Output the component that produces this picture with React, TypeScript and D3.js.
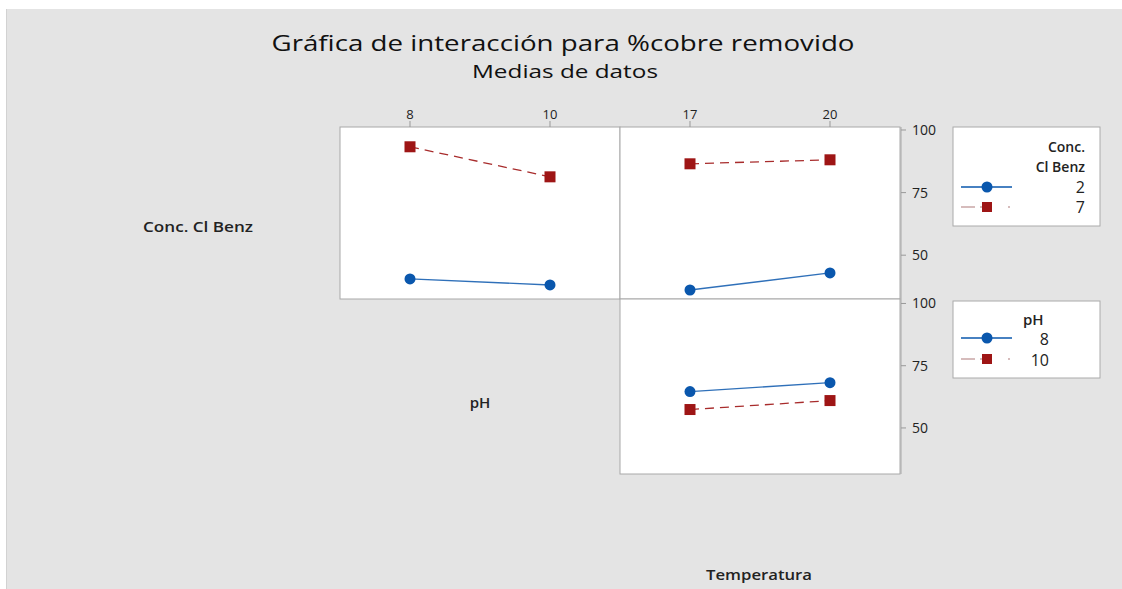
import React from "react";
import * as d3 from "d3";

// ---- Data ----
const concLevels = ["2", "7"];
const phLevels = ["8", "10"];
const phValues = [8, 10];
const tempValues = [17, 20];
// Panel: Conc. Cl Benz (series) vs pH (x)
const concByPh_2 = [40.5, 38.1];
const concByPh_7 = [93.3, 81.3];
// Panel: Conc. Cl Benz (series) vs Temperatura (x)
const concByTemp_2 = [36.1, 42.9];
const concByTemp_7 = [86.5, 88.1];
// Panel: pH (series) vs Temperatura (x)
const phByTemp_8 = [64.6, 68.2];
const phByTemp_10 = [57.4, 61.0];
const yTicks = [50, 75, 100];

const W = 1122;
const H = 589;
const BLUE = "#0a57ad";
const RED = "#9e1515";
const FONT = "'Open Sans', 'Noto Sans', sans-serif";

const xPh = d3.scaleLinear().domain([7, 11]).range([340, 620]);
const xTemp = d3.scaleLinear().domain([15.5, 21.5]).range([620, 900]);
const yTop = d3.scaleLinear().domain([32.5, 101.2]).range([299, 127]);
const yBot = d3.scaleLinear().domain([31.5, 101.8]).range([474, 299]);

type SeriesProps = {
  xs: number[];
  ys: number[];
  x: d3.ScaleLinear<number, number>;
  y: d3.ScaleLinear<number, number>;
  kind: "circle" | "square";
};

function Series({ xs, ys, x, y, kind }: SeriesProps) {
  const line = d3
    .line<number>()
    .x((_, i) => x(xs[i]))
    .y((d) => y(d));
  const color = kind === "circle" ? BLUE : RED;
  return (
    <g>
      <path
        d={line(ys) || ""}
        fill="none"
        stroke={color}
        strokeWidth={1.3}
        strokeOpacity={kind === "circle" ? 0.85 : 0.9}
        strokeDasharray={kind === "square" ? "9,6" : undefined}
      />
      {ys.map((v, i) =>
        kind === "circle" ? (
          <circle key={i} cx={x(xs[i])} cy={y(v)} r={5.5} fill={color} />
        ) : (
          <rect key={i} x={x(xs[i]) - 5.5} y={y(v) - 5.5} width={11} height={11} fill={color} />
        )
      )}
    </g>
  );
}

function LegendRow({ y, kind }: { y: number; kind: "circle" | "square" }) {
  const color = kind === "circle" ? BLUE : RED;
  return (
    <g>
      <line
        x1={961}
        x2={1012}
        y1={y}
        y2={y}
        stroke={kind === "circle" ? color : "#c9a6a6"}
        strokeWidth={1.4}
        strokeDasharray={kind === "square" ? "14,5,12,16,2,10" : undefined}
      />
      {kind === "circle" ? (
        <circle cx={987} cy={y} r={5.5} fill={color} />
      ) : (
        <rect x={982} y={y - 5} width={10} height={10} fill={color} />
      )}
    </g>
  );
}

export default function App() {
  return (
    <div style={{ position: "absolute", left: 0, top: 0 }}>
      <svg width={W} height={H} style={{ display: "block", fontFamily: FONT }}>
        <rect x={0} y={0} width={W} height={H} fill="#ffffff" />
        <rect x={6} y={9} width={W - 6} height={H - 9} fill="#e4e4e4" />
        <line x1={6.5} x2={6.5} y1={9} y2={H} stroke="#d2d2d2" />

        {/* Titles */}
        <text
          x={563}
          y={51}
          textAnchor="middle"
          fontSize={22}
          fill="#111"
          textLength={583}
          lengthAdjust="spacingAndGlyphs"
        >
          Gráfica de interacción para %cobre removido
        </text>
        <text
          x={565}
          y={78}
          textAnchor="middle"
          fontSize={19}
          fill="#111"
          textLength={186}
          lengthAdjust="spacingAndGlyphs"
        >
          Medias de datos
        </text>

        {/* Panels */}
        <rect x={340} y={127} width={280} height={172} fill="#fff" stroke="#a8a8a8" />
        <rect x={620} y={127} width={280} height={172} fill="#fff" stroke="#a8a8a8" />
        <rect x={620} y={299} width={280} height={175} fill="#fff" stroke="#a8a8a8" />

        {/* Top x ticks */}
        {phValues.map((v) => (
          <g key={"p" + v}>
            <line x1={xPh(v)} x2={xPh(v)} y1={121} y2={127} stroke="#999" />
            <text x={xPh(v)} y={119} textAnchor="middle" fontSize={13} fill="#222">
              {v}
            </text>
          </g>
        ))}
        {tempValues.map((v) => (
          <g key={"t" + v}>
            <line x1={xTemp(v)} x2={xTemp(v)} y1={121} y2={127} stroke="#999" />
            <text x={xTemp(v)} y={119} textAnchor="middle" fontSize={13} fill="#222">
              {v}
            </text>
          </g>
        ))}

        {/* Right y axis */}
        <line x1={901} x2={901} y1={127} y2={474} stroke="#a8a8a8" />
        {yTicks.map((t) => (
          <g key={"yt" + t}>
            <line x1={901} x2={906} y1={yTop(t)} y2={yTop(t)} stroke="#999" />
            <text x={912} y={yTop(t) + 5} fontSize={14} fill="#222">
              {t}
            </text>
          </g>
        ))}
        {yTicks.map((t) => (
          <g key={"yb" + t}>
            <line x1={901} x2={906} y1={yBot(t)} y2={yBot(t)} stroke="#999" />
            <text x={912} y={yBot(t) + 5} fontSize={14} fill="#222">
              {t}
            </text>
          </g>
        ))}

        {/* Series */}
        <Series xs={phValues} ys={concByPh_7} x={xPh} y={yTop} kind="square" />
        <Series xs={phValues} ys={concByPh_2} x={xPh} y={yTop} kind="circle" />
        <Series xs={tempValues} ys={concByTemp_7} x={xTemp} y={yTop} kind="square" />
        <Series xs={tempValues} ys={concByTemp_2} x={xTemp} y={yTop} kind="circle" />
        <Series xs={tempValues} ys={phByTemp_10} x={xTemp} y={yBot} kind="square" />
        <Series xs={tempValues} ys={phByTemp_8} x={xTemp} y={yBot} kind="circle" />

        {/* Row / column labels */}
        <text x={198} y={232} textAnchor="middle" fontSize={14} fontWeight={600} fill="#222"
          textLength={110} lengthAdjust="spacingAndGlyphs">
          Conc. Cl Benz
        </text>
        <text x={480} y={408} textAnchor="middle" fontSize={15} fontWeight={600} fill="#222">
          pH
        </text>
        <text x={759} y={580} textAnchor="middle" fontSize={14} fontWeight={600} fill="#222"
          textLength={106} lengthAdjust="spacingAndGlyphs">
          Temperatura
        </text>

        {/* Legend 1 */}
        <rect x={953} y={127} width={147} height={99} fill="#fff" stroke="#aaa" />
        <text x={1085} y={152} textAnchor="end" fontSize={14} fontWeight={600} fill="#222">
          Conc.
        </text>
        <text x={1085} y={172} textAnchor="end" fontSize={14} fontWeight={600} fill="#222">
          Cl Benz
        </text>
        <LegendRow y={187} kind="circle" />
        <LegendRow y={207} kind="square" />
        <text x={1085} y={193} textAnchor="end" fontSize={16} fill="#222">
          {concLevels[0]}
        </text>
        <text x={1085} y={213} textAnchor="end" fontSize={16} fill="#222">
          {concLevels[1]}
        </text>

        {/* Legend 2 */}
        <rect x={953} y={301} width={147} height={77} fill="#fff" stroke="#aaa" />
        <text x={1023} y={325} fontSize={15} fontWeight={600} fill="#222">
          pH
        </text>
        <LegendRow y={338} kind="circle" />
        <LegendRow y={359} kind="square" />
        <text x={1049} y={345} textAnchor="end" fontSize={16} fill="#222">
          {phLevels[0]}
        </text>
        <text x={1049} y={366} textAnchor="end" fontSize={16} fill="#222">
          {phLevels[1]}
        </text>
      </svg>
    </div>
  );
}
